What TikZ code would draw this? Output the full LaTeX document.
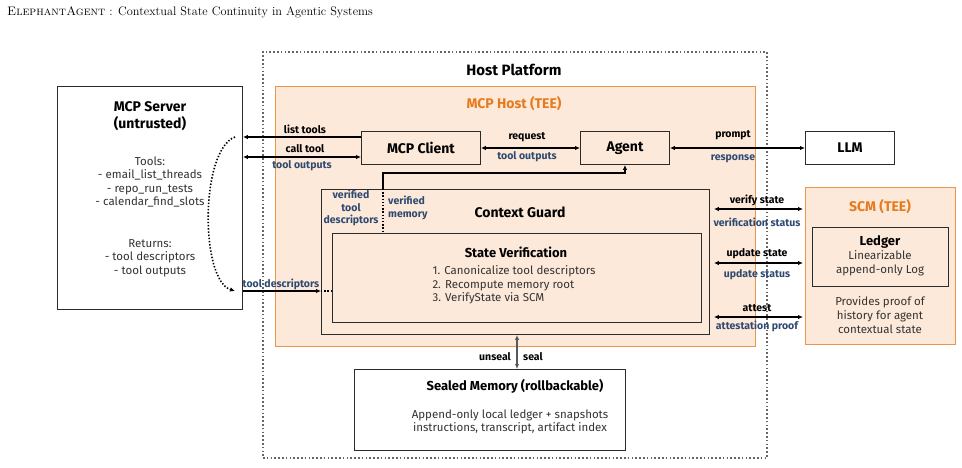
\documentclass[tikz,border=0pt]{standalone}
\usepackage{fontspec}
\setsansfont{Fira Sans}
\usetikzlibrary{arrows.meta,calc}
\definecolor{peach}{HTML}{FDE9DA}
\definecolor{orangeB}{HTML}{E8964A}
\definecolor{orangeT}{HTML}{E57A1E}
\definecolor{navy}{HTML}{2E4A70}
\definecolor{boxline}{HTML}{2B2B2B}
\definecolor{dotgrey}{HTML}{666666}
\begin{document}
\begin{tikzpicture}[x=1pt,y=-1pt,
  rbox/.style={draw=boxline,line width=0.9pt,anchor=north west,inner sep=0pt},
  tee/.style={draw=orangeB,fill=peach,line width=1.1pt,anchor=north west,inner sep=0pt},
  ttl/.style={font=\sffamily\bfseries\fontsize{14}{16}\selectfont,text=black},
  sttl/.style={font=\sffamily\bfseries\fontsize{13}{15}\selectfont,text=black},
  body/.style={font=\sffamily\fontsize{11.5}{13.6}\selectfont,text=black!80,align=center},
  lblk/.style={font=\sffamily\bfseries\fontsize{10.5}{12}\selectfont,text=black,inner sep=1pt},
  lbln/.style={font=\sffamily\bfseries\fontsize{10.5}{12}\selectfont,text=navy,inner sep=1pt},
  arr/.style={line width=1.3pt,-{Latex[length=5pt,width=4.5pt]}},
  dbl/.style={line width=1.3pt,{Latex[length=5pt,width=4.5pt]}-{Latex[length=5pt,width=4.5pt]}},
]
\useasboundingbox (0,0) rectangle (962,467);
% title
\node[anchor=west,font=\fontsize{12.3}{14}\selectfont,inner sep=0pt] (title) at (7,12) {\textsc{ElephantAgent} : Contextual State Continuity in Agentic Systems};

% Host platform
\node[anchor=north west,inner sep=0pt,minimum width=504pt,minimum height=406pt,draw=dotgrey,line width=1.8pt,dash pattern=on 1.6pt off 2.2pt] (host) at (262,51) {};
\node[ttl,font=\sffamily\bfseries\fontsize{15}{17}\selectfont] (hosttitle) at (514,70) {Host Platform};

% MCP host TEE
\node[tee,minimum width=480pt,minimum height=260pt] (mcphost) at (275,86) {};
\node[ttl,text=orangeT] (mcphosttitle) at (514,104) {MCP Host (TEE)};

% SCM TEE
\node[tee,minimum width=150pt,minimum height=157pt] (scm) at (805,187) {};
\node[ttl,text=orangeT] (scmtitle) at (880,207) {SCM (TEE)};
\node[rbox,minimum width=136pt,minimum height=59pt] (ledger) at (812,227) {};
\node[sttl] (ledgertitle) at (880,242) {Ledger};
\node[body] (ledgertext) at (880,263) {Linearizable\\append-only Log};
\node[body] (scmtext) at (880,315) {Provides proof of\\history for agent\\contextual state};

% MCP server
\node[rbox,fill=white,minimum width=185pt,minimum height=223pt] (server) at (57,86) {};
\node[ttl,align=center,font=\sffamily\bfseries\fontsize{14}{16.5}\selectfont] (servertitle) at (150,116) {MCP Server\\(untrusted)};
\node[body] (servertools) at (150,182) {Tools:\\- email\_list\_threads\\- repo\_run\_tests\\- calendar\_find\_slots};
\node[body] (serverret) at (150,258) {Returns:\\- tool descriptors\\- tool outputs};

% client, agent, llm
\node[rbox,minimum width=119pt,minimum height=33pt] (client) at (361,131) {};
\node[ttl] at (client.center) {MCP Client};
\node[rbox,minimum width=89pt,minimum height=33pt] (agent) at (580,131) {};
\node[ttl] at (agent.center) {Agent};
\node[rbox,fill=white,minimum width=89pt,minimum height=33pt] (llm) at (805,131) {};
\node[ttl] at (llm.center) {LLM};

% context guard
\node[rbox,minimum width=388pt,minimum height=145pt] (cg) at (321,189) {};
\node[ttl] (cgtitle) at (520,212) {Context Guard};
\node[rbox,minimum width=369pt,minimum height=89pt] (sv) at (332,233) {};
\node[sttl] (svtitle) at (516,252) {State Verification};
\node[body,align=left,anchor=north west] (svtext) at (429,262) {1. Canonicalize tool descriptors\\2. Recompute memory root\\3. VerifyState via SCM};

% sealed memory
\node[rbox,fill=white,minimum width=271pt,minimum height=81pt] (sealed) at (354,369) {};
\node[sttl] (sealedtitle) at (515,386) {Sealed Memory (rollbackable)};
\node[body] (sealedtext) at (510,422) {Append-only local ledger + snapshots\\instructions, transcript, artifact index};

% server <-> client
\draw[arr] (client.west |- 0,137) -- (server.east |- 0,137);
\node[lblk] at (305,129) {list tools};
\draw[dbl] (server.east |- 0,157) -- (client.west |- 0,157);
\node[lblk] at (305,149) {call tool};
\node[lbln] at (302,166) {tool outputs};

% client <-> agent
\draw[dbl] (client.east |- 0,148) -- (agent.west |- 0,148);
\node[lblk] at (527,137) {request};
\node[lbln] at (527,157) {tool outputs};

% agent <-> llm
\draw[dbl] (agent.east |- 0,148) -- (llm.west |- 0,148);
\node[lblk] at (733,135) {prompt};
\node[lbln] at (733,159) {response};

% curved dotted descriptor path
\coordinate (cstart) at (235,137);
\coordinate (cend) at (235,291);
\draw[line width=1.6pt,dash pattern=on 1.4pt off 1.8pt,-{Latex[length=5pt,width=4.5pt]}] (cstart) .. controls (200,150) and (200,280) .. (cend);

% tool descriptors into guard
\draw[arr] (server.east |- 0,291) -- (cg.west |- 0,291);
\draw[line width=1.4pt,dash pattern=on 1.4pt off 1.8pt] (cg.west |- 0,291) -- (sv.west |- 0,291);
\node[lbln] at (281,284) {tool descriptors};

% guard -> agent
\coordinate (cgtap) at (383,189);
\draw[arr] (cgtap) -- (383,173) -| (agent.south);
\draw[line width=1.4pt,dash pattern=on 1.4pt off 1.8pt] (cgtap) -- (cgtap |- sv.north);
\node[lbln,align=center,font=\sffamily\bfseries\fontsize{10.5}{12.5}\selectfont] at (351,208) {verified\\tool\\descriptors};
\node[lbln,align=left,anchor=west,font=\sffamily\bfseries\fontsize{10.5}{12.5}\selectfont] at (387,208) {verified\\memory};

% guard <-> SCM
\draw[dbl,shorten <=4pt,shorten >=2pt] (cg.east |- 0,209) -- (scm.west |- 0,209);
\node[lblk] at (757,200) {verify state};
\node[lbln] at (757,222) {verification status};
\draw[dbl,shorten <=4pt,shorten >=2pt] (cg.east |- 0,263) -- (scm.west |- 0,263);
\node[lblk] at (757,254) {update state};
\node[lbln] at (757,275) {update status};
\draw[dbl,shorten <=4pt,shorten >=2pt] (cg.east |- 0,317) -- (scm.west |- 0,317);
\node[lblk] at (757,308) {attest};
\node[lbln] at (757,326) {attestation proof};

% seal
\draw[line width=1.3pt,draw=black!65,{Latex[length=5pt,width=4.5pt]}-{Latex[length=5pt,width=4.5pt]}] ([xshift=163pt]sealed.north west) -- ([xshift=163pt]sealed.north west |- cg.south);
\node[lblk,anchor=east] at (512,357) {unseal};
\node[lblk,anchor=west] at (522,357) {seal};
\end{tikzpicture}
\end{document}
